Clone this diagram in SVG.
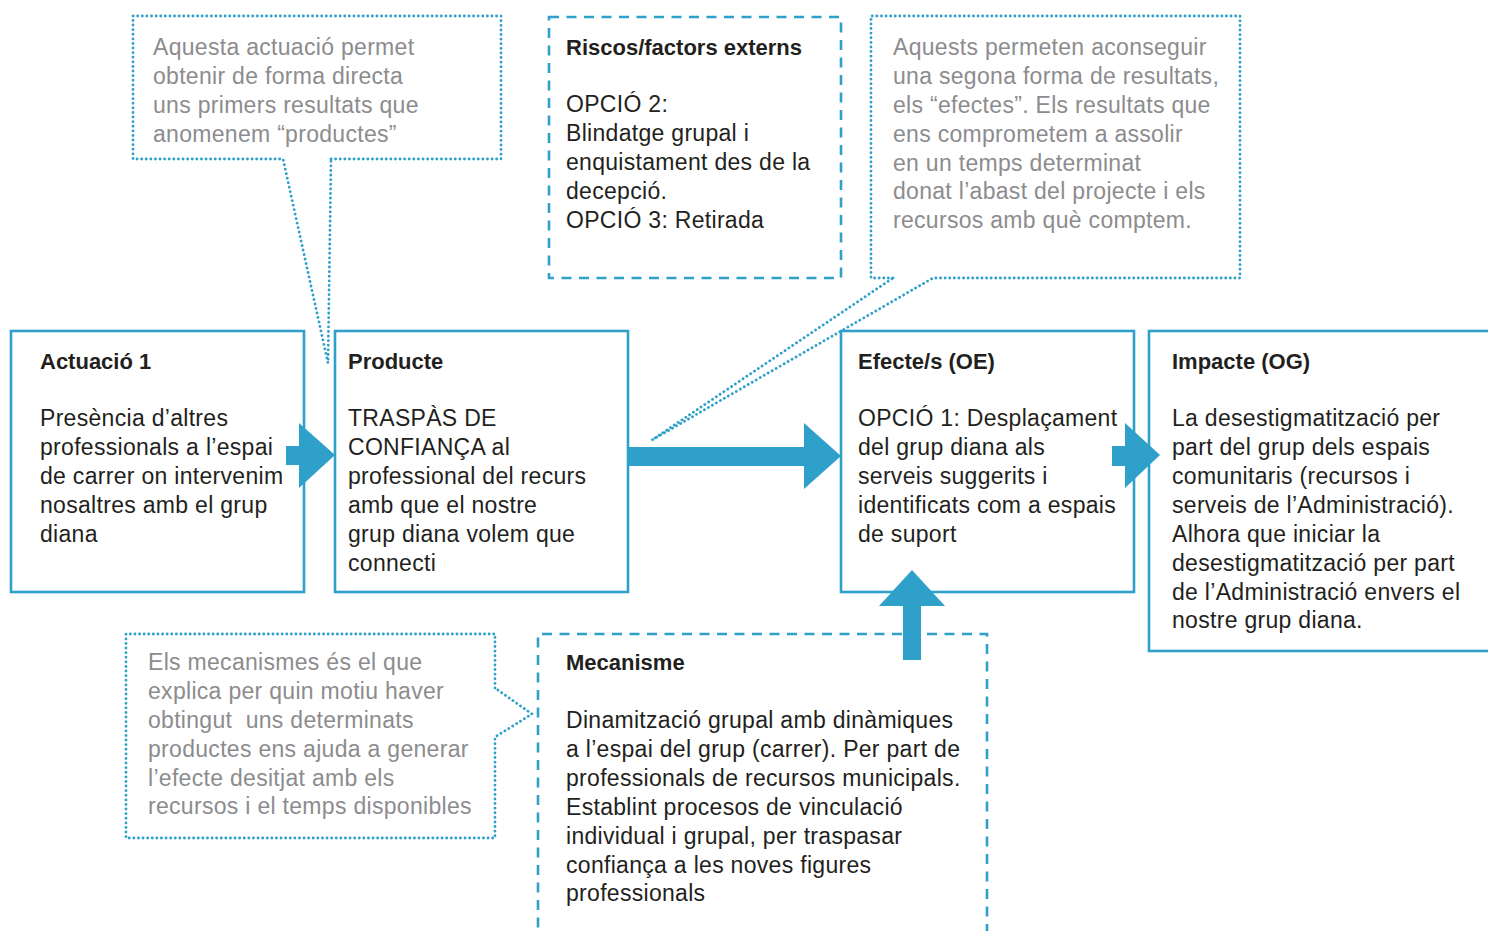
<svg xmlns="http://www.w3.org/2000/svg" width="1488" height="931" viewBox="0 0 1488 931">
<style>
.box{fill:none;stroke:#2EA0CA;stroke-width:2.6}
.dash{fill:none;stroke:#2EA0CA;stroke-width:2.6;stroke-dasharray:10 7.5}
.dot{fill:none;stroke:#2EA0CA;stroke-width:2.8;stroke-dasharray:0.1 4.5;stroke-linecap:round;stroke-linejoin:round}
.arrow{fill:#2EA0CA}
text{font-family:"Liberation Sans",Arial,sans-serif;font-size:23px;fill:#231F20;letter-spacing:0.3px}
.t{font-weight:bold;font-size:22px;letter-spacing:0}
.g{fill:#8C8C8E}
</style>
<rect width="1488" height="931" fill="#fff"/>

<g id="callout-productes">
<path class="dot" d="M331,159 L501,159 L501,16 L133,16 L133,159 L283,159 L328,363 Z"/>
<text class="g" x="153" y="55">Aquesta actuació permet</text>
<text class="g" x="153" y="84">obtenir de forma directa</text>
<text class="g" x="153" y="113">uns primers resultats que</text>
<text class="g" x="153" y="142">anomenem “productes”</text>
</g>

<g id="riscos">
<rect class="dash" x="549" y="17" width="292" height="261"/>
<text class="t" x="566" y="55">Riscos/factors externs</text>
<text x="566" y="112">OPCIÓ 2:</text>
<text x="566" y="141">Blindatge grupal i</text>
<text x="566" y="170">enquistament des de la</text>
<text x="566" y="199">decepció.</text>
<text x="566" y="228">OPCIÓ 3: Retirada</text>
</g>

<g id="callout-efectes">
<path class="dot" d="M893,278 L871,278 L871,16 L1240,16 L1240,278 L933,278 L652,440 Z"/>
<text class="g" x="893" y="55">Aquests permeten aconseguir</text>
<text class="g" x="893" y="84">una segona forma de resultats,</text>
<text class="g" x="893" y="113">els “efectes”. Els resultats que</text>
<text class="g" x="893" y="142">ens comprometem a assolir</text>
<text class="g" x="893" y="171">en un temps determinat</text>
<text class="g" x="893" y="199">donat l’abast del projecte i els</text>
<text class="g" x="893" y="228">recursos amb què comptem.</text>
</g>

<g id="actuacio">
<rect class="box" x="11" y="331" width="293" height="261"/>
<text class="t" x="40" y="369">Actuació 1</text>
<text x="40" y="426">Presència d’altres</text>
<text x="40" y="455">professionals a l’espai</text>
<text x="40" y="484">de carrer on intervenim</text>
<text x="40" y="513">nosaltres amb el grup</text>
<text x="40" y="542">diana</text>
</g>

<g id="producte">
<rect class="box" x="335" y="331" width="293" height="261"/>
<text class="t" x="348" y="369">Producte</text>
<text x="348" y="426">TRASPÀS DE</text>
<text x="348" y="455">CONFIANÇA al</text>
<text x="348" y="484">professional del recurs</text>
<text x="348" y="513">amb que el nostre</text>
<text x="348" y="542">grup diana volem que</text>
<text x="348" y="571">connecti</text>
</g>

<g id="efecte">
<rect class="box" x="841" y="331" width="293" height="261"/>
<text class="t" x="858" y="369">Efecte/s (OE)</text>
<text x="858" y="426">OPCIÓ 1: Desplaçament</text>
<text x="858" y="455">del grup diana als</text>
<text x="858" y="484">serveis suggerits i</text>
<text x="858" y="513">identificats com a espais</text>
<text x="858" y="542">de suport</text>
</g>

<g id="impacte">
<rect class="box" x="1149" y="331" width="345" height="320"/>
<text class="t" x="1172" y="369">Impacte (OG)</text>
<text x="1172" y="426">La desestigmatització per</text>
<text x="1172" y="455">part del grup dels espais</text>
<text x="1172" y="484">comunitaris (recursos i</text>
<text x="1172" y="513">serveis de l’Administració).</text>
<text x="1172" y="542">Alhora que iniciar la</text>
<text x="1172" y="571">desestigmatització per part</text>
<text x="1172" y="600">de l’Administració envers el</text>
<text x="1172" y="628">nostre grup diana.</text>
</g>

<g id="callout-mecanisme">
<path class="dot" d="M495,688 L495,634 L126,634 L126,838 L495,838 L495,737 L532,714 Z"/>
<text class="g" x="148" y="670">Els mecanismes és el que</text>
<text class="g" x="148" y="699">explica per quin motiu haver</text>
<text class="g" x="148" y="728" xml:space="preserve">obtingut  uns determinats</text>
<text class="g" x="148" y="757">productes ens ajuda a generar</text>
<text class="g" x="148" y="786">l’efecte desitjat amb els</text>
<text class="g" x="148" y="814">recursos i el temps disponibles</text>
</g>

<g id="mecanisme">
<path class="dash" d="M538,945 L538,634 L987,634 L987,945"/>
<text class="t" x="566" y="670">Mecanisme</text>
<text x="566" y="728">Dinamització grupal amb dinàmiques</text>
<text x="566" y="757">a l’espai del grup (carrer). Per part de</text>
<text x="566" y="786">professionals de recursos municipals.</text>
<text x="566" y="815">Establint procesos de vinculació</text>
<text x="566" y="844">individual i grupal, per traspasar</text>
<text x="566" y="873">confiança a les noves figures</text>
<text x="566" y="901">professionals</text>
</g>

<g id="connectors">
<polygon class="arrow" points="286,446 299,446 299,423 335,455 299,488 299,465 286,465"/>
<polygon class="arrow" points="629,447 804,447 804,423 841,456 804,489 804,466 629,466"/>
<polygon class="arrow" points="1112,446 1125,446 1125,423 1160,455 1125,488 1125,466 1112,466"/>
<polygon class="arrow" points="903,660 903,606 879,606 912,570 945,606 921,606 921,660"/>
</g>
</svg>
